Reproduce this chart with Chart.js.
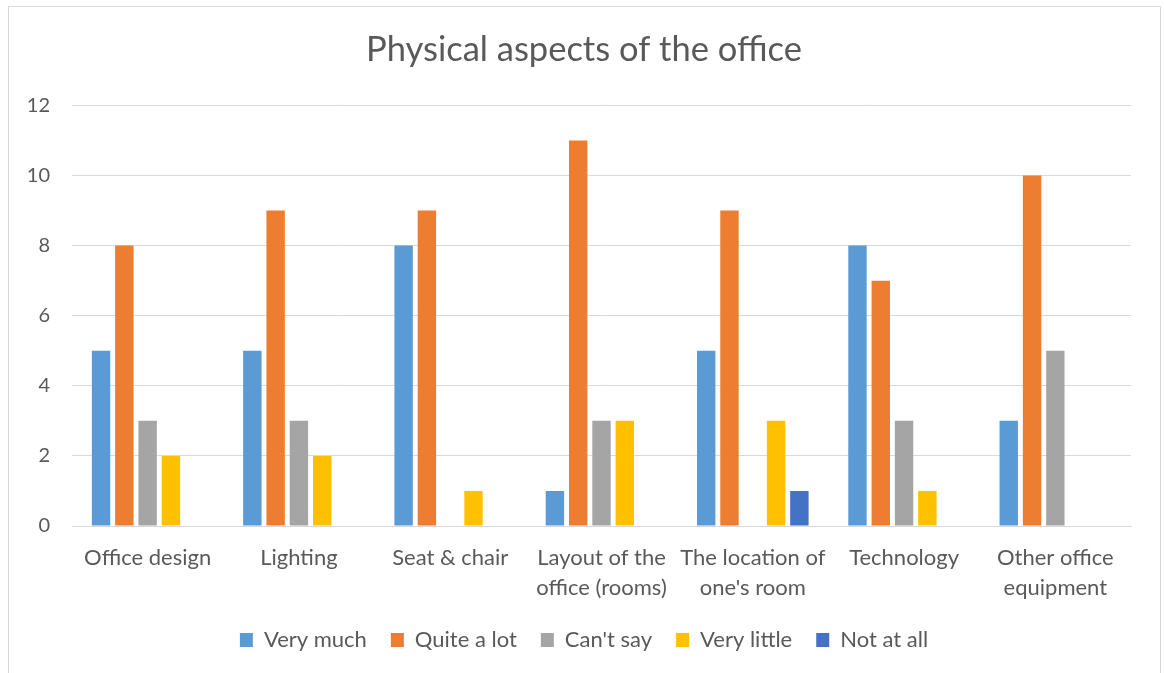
<!DOCTYPE html>
<html>
<head>
<meta charset="utf-8">
<script src="https://cdn.jsdelivr.net/npm/chart.js@4.4.1/dist/chart.umd.min.js"></script>
<style>
  html, body { margin: 0; padding: 0; background: #fff; }
  canvas { display: block; }
</style>
</head>
<body>
<canvas id="officeChart" width="1164" height="673"></canvas>
<script>
// categories and answers per aspect
const categories = [
    'Office design',
    'Lighting',
    'Seat & chair',
    ['Layout of the', 'office (rooms)'],
    ['The location of', "one's room"],
    'Technology',
    ['Other office', 'equipment']
];
const veryMuch   = [5, 5, 8, 1, 5, 8, 3];
const quiteALot  = [8, 9, 9, 11, 9, 7, 10];
const cantSay    = [3, 3, 0, 3, 0, 3, 5];
const veryLittle = [2, 2, 1, 3, 3, 1, 0];
const notAtAll   = [0, 0, 0, 0, 1, 0, 0];
const yTicks = [0, 2, 4, 6, 8, 10, 12];

const textColor = '#595959';
const gridColor = '#d9d9d9';
const fontFamily = "'Lato', 'Open Sans', sans-serif";

// white background and thin frame around the chart
const framePlugin = {
    id: 'frame',
    beforeDraw(chart) {
        const ctx = chart.ctx;
        ctx.save();
        ctx.fillStyle = '#fff';
        ctx.fillRect(0, 0, chart.width, chart.height);
        ctx.strokeStyle = gridColor;
        ctx.lineWidth = 1;
        ctx.strokeRect(8.5, 6.5, 1152, 720);
        ctx.restore();
    }
};

function makeSet(label, data, color) {
    return {
        label: label,
        data: data,
        backgroundColor: color,
        borderWidth: 0,
        barPercentage: 0.79,
        categoryPercentage: 0.77
    };
}

new Chart(document.getElementById('officeChart'), {
    type: 'bar',
    data: {
        labels: categories,
        datasets: [
            makeSet('Very much', veryMuch, '#5b9bd5'),
            makeSet('Quite a lot', quiteALot, '#ed7d31'),
            makeSet("Can't say", cantSay, '#a5a5a5'),
            makeSet('Very little', veryLittle, '#ffc000'),
            makeSet('Not at all', notAtAll, '#4472c4')
        ]
    },
    options: {
        responsive: false,
        animation: false,
        devicePixelRatio: 1,
        layout: {
            padding: { left: 9, right: 5, top: 6, bottom: 12 }
        },
        plugins: {
            title: {
                display: true,
                text: 'Physical aspects of the office',
                color: textColor,
                font: { family: fontFamily, size: 34.5, weight: 'normal', lineHeight: 1.2 },
                padding: { top: 23, bottom: 35 }
            },
            legend: {
                position: 'bottom',
                labels: {
                    color: textColor,
                    font: { family: fontFamily, size: 22 },
                    boxWidth: 13,
                    boxHeight: 14,
                    padding: 24
                }
            },
            tooltip: { enabled: false }
        },
        scales: {
            y: {
                min: 0,
                max: 12,
                afterFit: function (scale) { scale.width = 63; },
                afterBuildTicks: function (scale) {
                    scale.ticks = yTicks.map(v => ({ value: v }));
                },
                grid: { color: gridColor, lineWidth: 1, drawTicks: false },
                border: { display: false },
                ticks: {
                    color: textColor,
                    padding: 22,
                    font: { family: fontFamily, size: 20 }
                }
            },
            // empty right-hand margin so the plot ends where it should
            yRight: {
                position: 'right',
                min: 0,
                max: 12,
                afterFit: function (scale) { scale.width = 28; },
                grid: { display: false },
                border: { display: false },
                ticks: { display: false }
            },
            x: {
                grid: { display: false, drawTicks: false },
                border: { color: gridColor, width: 1 },
                afterFit: function (scale) { scale.height = 79; },
                ticks: {
                    color: textColor,
                    padding: 17,
                    maxRotation: 0,
                    autoSkip: false,
                    font: { family: fontFamily, size: 22, lineHeight: 1.36 }
                }
            }
        }
    },
    plugins: [framePlugin]
});
</script>
</body>
</html>
